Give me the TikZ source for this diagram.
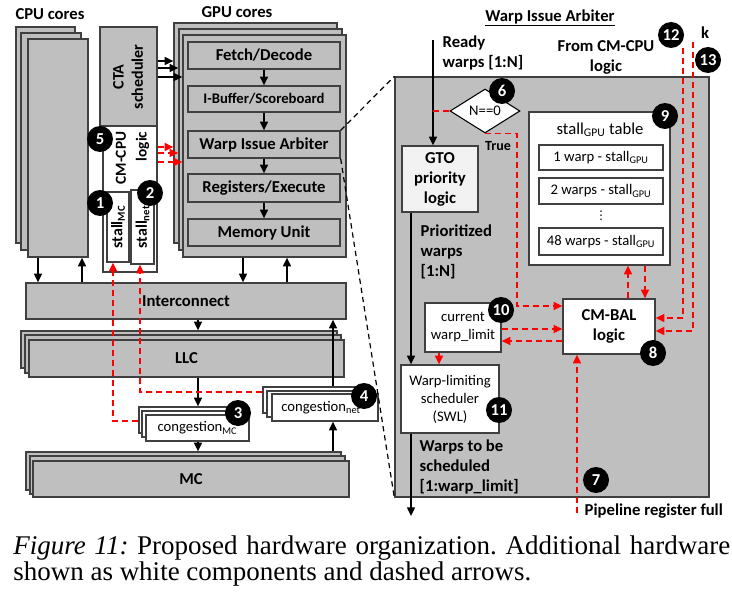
\documentclass[tikz,border=0pt]{standalone}
\usepackage{fontspec}
\setmainfont{Carlito}
\newfontfamily\capfont{Liberation Serif}
\newfontfamily\symfont{DejaVu Sans}
\usetikzlibrary{arrows.meta,fit,shapes.geometric}

\definecolor{hwgray}{HTML}{BFBFBF}
\definecolor{hwedge}{HTML}{404040}
\definecolor{gtofill}{HTML}{F2F2F2}
\definecolor{cmred}{HTML}{FF0000}

\begin{document}
\begin{tikzpicture}[x=0.75pt,y=-0.75pt,
  blk/.style={draw=hwedge,fill=hwgray,line width=1pt,inner sep=0pt},
  wblk/.style={draw=hwedge,fill=white,line width=1pt,inner sep=0pt},
  bigtxt/.style={font=\bfseries\fontsize{12.5}{15}\selectfont},
  smalltxt/.style={font=\fontsize{11}{13.5}\selectfont},
  arr/.style={line width=1pt,-{Triangle[length=6.5pt,width=6pt]}},
  redline/.style={draw=cmred,line width=1pt,dash pattern=on 4.5pt off 3pt},
  redarr/.style={redline,-{Triangle[length=6.5pt,width=6pt]}},
  badge/.style={circle,fill=black,text=white,inner sep=0pt,minimum size=19.5pt,
    font=\bfseries\fontsize{12.5}{12.5}\selectfont},
  zoomline/.style={line width=0.9pt,dash pattern=on 4pt off 3pt},
]
\useasboundingbox (0,0) rectangle (732,592);

% CPU side
\node[bigtxt] (cpulbl) at (50,14) {CPU cores};
\node[blk,fit={(16,27) (75,243)}] (cpuA) {};
\node[blk,fit={(21,33) (81,250)}] (cpuB) {};
\node[blk,fit={(28,39) (88,257)}] (cpu) {};

\node[blk,fit={(100,27) (157,126)}] (cta) {};
\node[rotate=90,align=center,font=\bfseries\fontsize{12}{14.5}\selectfont] (ctatxt) at (128,77) {CTA\\scheduler};
\node[wblk,fit={(103,126) (157,272)}] (cmcpu) {};
\node[rotate=90,align=right,font=\bfseries\fontsize{11.5}{15.5}\selectfont] (cmcputxt) at (132.5,158) {CM-CPU\\logic};
\node[wblk,fit={(107,192) (129,262)}] (stallmc) {};
\node[rotate=90,font=\bfseries\fontsize{12}{14}\selectfont] (stallmctxt) at (stallmc.center) {stall\textsubscript{MC}};
\node[wblk,fit={(131,190) (154,264)}] (stallnet) {};
\node[rotate=90,font=\bfseries\fontsize{12}{14}\selectfont] (stallnettxt) at (stallnet.center) {stall\textsubscript{net}};

% GPU side
\node[bigtxt] (gpulbl) at (237,12) {GPU cores};
\node[blk,fit={(174,23) (337,243)}] (gpuA) {};
\node[blk,fit={(179,29) (342,250)}] (gpuB) {};
\node[blk,fit={(183,35) (346,257)}] (gpu) {};
\node[blk,fit={(188,42) (340,69)}] (fetch) {};
\node[bigtxt] at (fetch.center) {Fetch/Decode};
\node[blk,fit={(188,86) (340,112)}] (ibuf) {};
\node[font=\bfseries\fontsize{11}{13}\selectfont] at (ibuf.center) {I-Buffer/Scoreboard};
\node[blk,fit={(188,131) (340,158)}] (wia) {};
\node[bigtxt] at (wia.center) {Warp Issue Arbiter};
\node[blk,fit={(188,174) (340,202)}] (regs) {};
\node[bigtxt] at (regs.center) {Registers/Execute};
\node[blk,fit={(188,219) (340,246)}] (mem) {};
\node[bigtxt] at (mem.center) {Memory Unit};
\draw[arr] (fetch) -- (ibuf);
\draw[arr] (ibuf) -- (wia);
\draw[arr] (wia) -- (regs);
\draw[arr] (regs) -- (mem);

\draw[arr] (cta.east |- 0,61) -- (gpuA.west |- 0,61);
\draw[arr] (cta.east |- 0,68) -- (gpuB.west |- 0,68);
\draw[arr] (cta.east |- 0,77) -- (gpu.west |- 0,77);
\draw[redarr] (cmcpu.east |- 0,147) -- (gpuA.west |- 0,147);
\draw[redarr] (cmcpu.east |- 0,153) -- (gpuB.west |- 0,153);
\draw[redarr] (cmcpu.east |- 0,162) -- (gpu.west |- 0,162);

% memory side
\node[blk,fit={(26,283) (346,319)}] (icnt) {};
\node[bigtxt] at (icnt.center) {Interconnect};
\draw[arr] (cpu.south -| 38,0) -- (icnt.north -| 38,0);
\draw[arr] (icnt.north -| 82,0) -- (cpu.south -| 82,0);
\draw[arr] (gpu.south -| 243,0) -- (icnt.north -| 243,0);
\draw[arr] (icnt.north -| 287,0) -- (gpu.south -| 287,0);

\node[blk,fit={(21,331) (337,368)}] (llcA) {};
\node[blk,fit={(25,335) (341,373)}] (llcB) {};
\node[blk,fit={(29,340) (344,377)}] (llc) {};
\node[bigtxt] at (llc.center) {LLC};
\draw[arr] (icnt.south -| 198,0) -- (llcA.north -| 198,0);

\node[wblk,fit={(139,407) (242,433)}] (cmcA) {};
\node[wblk,fit={(142,411) (245,437)}] (cmcB) {};
\node[wblk,fit={(146,415) (249,441)}] (cmc) {};
\node[smalltxt] at (cmc.center) {congestion\textsubscript{MC}};
\draw[arr] (llc.south -| 198,0) -- (cmcA.north -| 198,0);

\node[blk,fit={(26,452) (341,490)}] (mcA) {};
\node[blk,fit={(30,456) (345,494)}] (mcB) {};
\node[blk,fit={(33,461) (349,497)}] (mc) {};
\node[bigtxt] at (mc.center) {MC};
\draw[arr] (cmc.south -| 198,0) -- (mcA.north -| 198,0);

\node[wblk,fit={(263,387) (370,413)}] (cnetA) {};
\node[wblk,fit={(267,391) (374,417)}] (cnetB) {};
\node[wblk,fit={(272,394) (378,421)}] (cnet) {};
\node[smalltxt] at ([xshift=-3pt]cnet.center) {congestion\textsubscript{net}};
\draw[arr] (mcA.north -| 333,0) -- (cnet.south -| 333,0);
\draw[arr] (cnetA.north -| 333,0) -- (icnt.south -| 333,0);

\draw[redarr] (cmcA.west |- 0,421) -| (stallmc.south -| 113,0);
\draw[redarr] (cnetA.west |- 0,392) -| (stallnet.south -| 140,0);

\node[badge] (b5) at (100,139) {5};
\node[badge] (b1) at (100,203) {1};
\node[badge] (b2) at (150,193) {2};
\node[badge] (b3) at (238,413) {3};
\node[badge] (b4) at (364,396) {4};

% warp issue arbiter detail
\node[bigtxt] (arbttl) at (550,18) {\underline{Warp Issue Arbiter}};
\node[blk,fit={(395,77) (709,497)}] (arb) {};
\draw[zoomline] (wia.north east) -- (arb.north west);
\draw[zoomline] (wia.south east) -- (arb.south west);

\coordinate (rdy) at (433,40);
\node[bigtxt,align=left,anchor=west] (rdytxt) at (438,53) {Ready\\warps [1:N]};
\node[bigtxt,align=center] (fromcm) at (606,57) {From CM-CPU\\logic};
\node[draw,fill=white,diamond,aspect=1.6,inner sep=0.5pt,line width=0.8pt,
  minimum width=52.5pt,minimum height=33pt,font=\fontsize{11}{12}\selectfont] (nz) at (485,111) {N==0};
\node[draw=hwedge,fill=gtofill,line width=1pt,inner sep=0pt,fit={(402,146) (478,212)}] (gto) {};
\node[bigtxt,align=center] at (gto.center) {GTO\\priority\\logic};
\draw[arr] (rdy) -- (rdy |- gto.north);
\draw[redline] (nz.west) -- (rdy |- nz.west);
\node[font=\bfseries\fontsize{10.5}{12}\selectfont] (truelbl) at (498,146) {True};

\node[wblk,fit={(529,112) (670,265)}] (tbl) {};
\node[font=\fontsize{12.5}{14}\selectfont] (tblttl) at (600,130) {stall\textsubscript{GPU} table};
\node[wblk,fit={(539,145) (663,170)}] (row1) {};
\node[smalltxt] at (row1.center) {1 warp - stall\textsubscript{GPU}};
\node[wblk,fit={(539,178) (663,204)}] (row2) {};
\node[smalltxt] at (row2.center) {2 warps - stall\textsubscript{GPU}};
\node[inner sep=0pt,font=\symfont\fontsize{9}{9}\selectfont] (rowdots) at (601,216) {⋮};
\node[wblk,fit={(539,228) (663,255)}] (row48) {};
\node[smalltxt] at (row48.center) {48 warps - stall\textsubscript{GPU}};

\node[wblk,fit={(563,299) (655,354)}] (cmbal) {};
\node[bigtxt,align=center] at (cmbal.center) {CM-BAL\\logic};
\node[wblk,fit={(425,303) (501,352)}] (cwl) {};
\node[smalltxt,align=center] at (cwl.center) {current\\warp\_limit};
\node[wblk,fit={(401,365) (499,433)}] (swl) {};
\node[smalltxt,align=center] at (swl.center) {Warp-limiting\\scheduler\\(SWL)};

\draw[redarr] (nz.south) -- (nz.south -| 517,0) |- (cmbal.west |- 0,306);
\draw[arr] (gto.south -| 411,0) -- (swl.north -| 411,0);
\node[bigtxt,align=left,anchor=west] (priotxt) at (416,252) {Prioritized\\warps\\{[1:N]}};
\draw[redarr] (cwl.south -| 439,0) -- (swl.north -| 439,0);
\draw[redarr] (cwl.east |- 0,329) -- (cmbal.west |- 0,329);
\draw[redarr] (cmbal.west |- 0,341) -- (cwl.east |- 0,341);
\coordinate (swlout) at (411,516);
\draw[arr] (swl.south -| swlout) -- (swlout);
\node[bigtxt,align=left,anchor=west] (schedtxt) at (415,467) {Warps to be\\scheduled\\{[1:warp\_limit]}};

\draw[redarr] (cmbal.north -| 628,0) -- (tbl.south -| 628,0);
\draw[redarr] (tbl.south -| 645,0) -- (cmbal.north -| 645,0);

\coordinate (in12) at (683,48);
\coordinate (in13) at (693,42);
\draw[redarr] (in12) |- (cmbal.east |- 0,318);
\draw[redarr] (in13) |- (cmbal.east |- 0,331);
\node[bigtxt] (klbl) at (705,33) {k};

\coordinate (pipe) at (577,513);
\draw[redarr] (pipe) -- (pipe |- cmbal.south);
\node[bigtxt,anchor=west] (pipetxt) at (580,511) {Pipeline register full};

\node[badge] (b6) at (502,91) {6};
\node[badge] (b9) at (665,116) {9};
\node[badge] (b10) at (501,310) {10};
\node[badge] (b8) at (653,353) {8};
\node[badge] (b11) at (499,410) {11};
\node[badge] (b7) at (596,480) {7};
\node[badge] (b12) at (671,35) {12};
\node[badge] (b13) at (708,60) {13};

% caption
\node[anchor=base west,inner sep=0pt,font=\capfont\fontsize{20.25}{20.25}\selectfont\frenchspacing] (capA) at (13,554)
  {\makebox[537.75pt][s]{\textit{Figure 11:} Proposed hardware organization. Additional hardware}};
\node[anchor=base west,inner sep=0pt,font=\capfont\fontsize{20.25}{20.25}\selectfont\frenchspacing] (capB) at (13,580)
  {shown as white components and dashed arrows.};
\end{tikzpicture}
\end{document}
